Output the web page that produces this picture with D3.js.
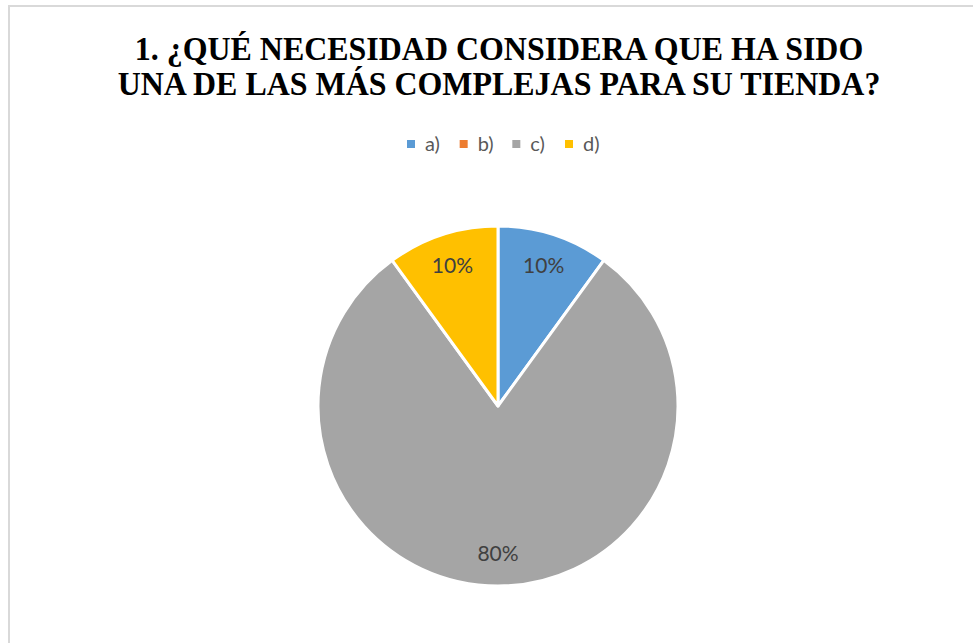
<!DOCTYPE html>
<html>
<head>
<meta charset="utf-8">
<script src="https://cdn.jsdelivr.net/npm/d3@7"></script>
<style>
  html, body { margin: 0; padding: 0; background: #fff; }
  svg { display: block; }
</style>
</head>
<body>
<svg id="chart" width="973" height="643"></svg>
<script>
// Survey answers and their shares
const categories = ["a)", "b)", "c)", "d)"];
const values = [10, 0, 80, 10];
const colors = ["#5B9BD5", "#ED7D31", "#A5A5A5", "#FFC000"];
const titleLines = [
  "1. ¿QUÉ NECESIDAD CONSIDERA QUE HA SIDO",
  "UNA DE LAS MÁS COMPLEJAS PARA SU TIENDA?"
];

const svg = d3.select("#chart");
const W = 973, H = 643;

// Chart area frame
svg.append("rect")
  .attr("x", 9).attr("y", 6)
  .attr("width", W + 20).attr("height", H + 20)
  .attr("fill", "#fff")
  .attr("stroke", "#d9d9d9")
  .attr("stroke-width", 2);

// Title (slightly condensed)
const title = svg.append("text")
  .attr("text-anchor", "middle")
  .attr("transform", "translate(499,0) scale(0.968,1)")
  .attr("font-family", "'Liberation Serif', 'Times New Roman', serif")
  .attr("font-weight", "bold")
  .attr("font-size", 33)
  .attr("fill", "#000");
title.selectAll("tspan")
  .data(titleLines)
  .join("tspan")
  .attr("x", 0)
  .attr("y", (d, i) => 60 + i * 35)
  .text(d => d);

// Legend
const color = d3.scaleOrdinal().domain(categories).range(colors);
const legendX = d3.scalePoint().domain(categories).range([407, 565]);
const legend = svg.append("g");
const items = legend.selectAll("g")
  .data(categories)
  .join("g")
  .attr("transform", d => `translate(${legendX(d)},143)`);
items.append("rect")
  .attr("x", 0).attr("y", -3)
  .attr("width", 8).attr("height", 8)
  .attr("fill", d => color(d));
items.append("text")
  .attr("x", 18).attr("y", 8)
  .attr("font-family", "Lato, 'Open Sans', sans-serif")
  .attr("font-size", 20)
  .attr("fill", "#595959")
  .text(d => d);

// Pie
const cx = 498, cy = 406, R = 180;
const data = categories.map((c, i) => ({ cat: c, value: values[i] }));
const pie = d3.pie().value(d => d.value).sort(null);
const arcs = pie(data);
const arc = d3.arc().innerRadius(0).outerRadius(R);
const labelArc = d3.arc().innerRadius(R * 0.82).outerRadius(R * 0.82);

const g = svg.append("g").attr("transform", `translate(${cx},${cy})`);
g.selectAll("path")
  .data(arcs.filter(d => d.data.value > 0))
  .join("path")
  .attr("d", arc)
  .attr("fill", d => color(d.data.cat))
  .attr("stroke", "#fff")
  .attr("stroke-width", 3)
  .attr("stroke-linejoin", "round");

g.selectAll("text")
  .data(arcs.filter(d => d.data.value > 0))
  .join("text")
  .attr("transform", d => `translate(${labelArc.centroid(d)})`)
  .attr("text-anchor", "middle")
  .attr("dy", "0.36em")
  .attr("font-family", "Lato, 'Open Sans', sans-serif")
  .attr("font-size", 21)
  .attr("fill", "#404040")
  .text(d => d.data.value + "%");
</script>
</body>
</html>
